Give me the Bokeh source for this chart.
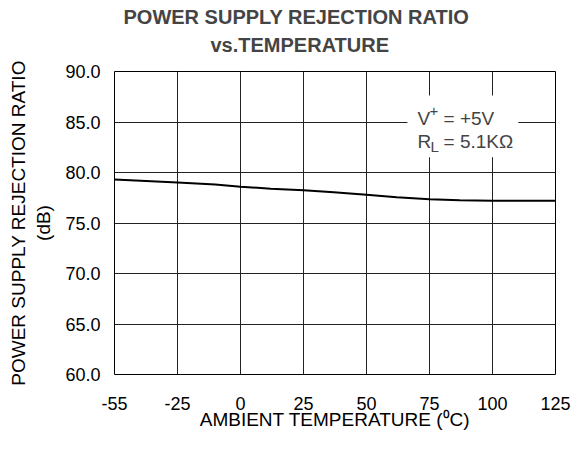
import numpy as np
from bokeh.plotting import figure
from bokeh.models import Title, Label, BoxAnnotation, FixedTicker, Range1d
from bokeh.embed import file_html
from bokeh.resources import INLINE

# ---- data ----
tick_temps = [-55, -25, 0, 25, 50, 75, 100, 125]
temps = [-55, -40, -25, -10, 0, 12, 25, 37, 50, 62, 75, 87, 100, 112, 125]
psrr = [79.3, 79.15, 79.0, 78.8, 78.6, 78.4, 78.25, 78.05, 77.8, 77.55, 77.35, 77.25, 77.2, 77.2, 77.2]
y_ticks = [60, 65, 70, 75, 80, 85, 90]
title_lines = ["POWER SUPPLY REJECTION RATIO", "vs.TEMPERATURE"]

FONT = "Liberation Sans"

x_idx = np.interp(temps, tick_temps, np.arange(len(tick_temps)))

p = figure(width=571, height=435, output_backend="svg", toolbar_location=None,
           x_range=Range1d(0, len(tick_temps) - 1), y_range=Range1d(60, 90),
           min_border_left=114, min_border_right=16, min_border_top=71, min_border_bottom=61)
p.background_fill_color = "white"
p.border_fill_color = "white"
p.outline_line_color = "black"
p.outline_line_width = 1

p.line(x_idx, psrr, line_color="black", line_width=2)

# grid
p.xgrid.ticker = FixedTicker(ticks=list(range(len(tick_temps))))
p.ygrid.ticker = FixedTicker(ticks=y_ticks)
for g in (p.xgrid, p.ygrid):
    g.grid_line_color = "#222222"
    g.grid_line_width = 1
    g.grid_line_alpha = 1

# axes
p.xaxis.ticker = FixedTicker(ticks=list(range(len(tick_temps))))
p.xaxis.major_label_overrides = {i: str(t) for i, t in enumerate(tick_temps)}
p.yaxis.ticker = FixedTicker(ticks=y_ticks)
p.yaxis.major_label_overrides = {v: f"{v:.1f}" for v in y_ticks}
for ax in (p.xaxis[0], p.yaxis[0]):
    ax.axis_line_color = None
    ax.major_tick_line_color = None
    ax.minor_tick_line_color = None
    ax.major_tick_out = 0
    ax.major_tick_in = 0
    ax.major_label_text_font = FONT
    ax.major_label_text_font_size = "18px"
    ax.major_label_text_color = "black"
    ax.axis_label_text_font = FONT
    ax.axis_label_text_font_size = "19px"
    ax.axis_label_text_font_style = "normal"
    ax.axis_label_text_color = "black"

p.xaxis.axis_label = "AMBIENT TEMPERATURE (\u2070C)"
p.xaxis.major_label_standoff = 22
p.xaxis.axis_label_standoff = -4
p.yaxis.axis_label = "POWER SUPPLY REJECTION RATIO\n(dB)"
p.yaxis.major_label_standoff = 14
p.yaxis.axis_label_standoff = 8

# titles (two lines)
p.add_layout(Title(text=title_lines[1], align="left", offset=96, text_font=FONT,
                   text_font_size="20px", text_font_style="bold", standoff=32), "above")
p.add_layout(Title(text=title_lines[0], align="left", offset=9,
                   text_font=FONT, text_font_size="20px", text_font_style="bold",
                   text_line_height=0.7, standoff=-24), "above")

# annotation box covering grid
p.add_layout(BoxAnnotation(left=4.65, right=6.41, bottom=81.5, top=87.63,
                           fill_color="white", fill_alpha=1, line_color=None))

ax0 = 4.81
p.add_layout(Label(x=ax0, y=85.36, text="V", text_font=FONT, text_font_size="19px",
                   text_baseline="middle"))
p.add_layout(Label(x=ax0, y=85.36, x_offset=12, y_offset=7, text="+", text_font=FONT,
                   text_font_size="15px", text_baseline="middle"))
p.add_layout(Label(x=ax0, y=85.36, x_offset=26, text="= +5V", text_font=FONT,
                   text_font_size="19px", text_baseline="middle"))
p.add_layout(Label(x=ax0, y=83.09, text="R", text_font=FONT, text_font_size="19px",
                   text_baseline="middle"))
p.add_layout(Label(x=ax0, y=83.09, x_offset=13, y_offset=-5, text="L", text_font=FONT,
                   text_font_size="15px", text_baseline="middle"))
p.add_layout(Label(x=ax0, y=83.09, x_offset=26, text="= 5.1K\u03a9", text_font=FONT,
                   text_font_size="19px", text_baseline="middle"))

open("out.html", "w").write(file_html(p, INLINE))
